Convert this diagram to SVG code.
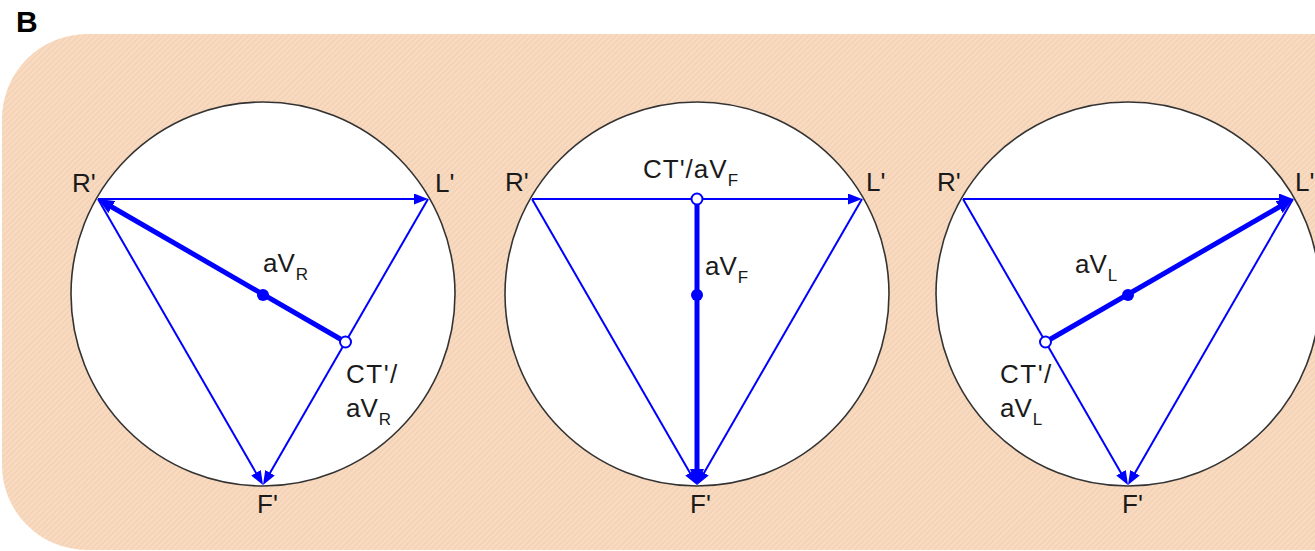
<svg xmlns="http://www.w3.org/2000/svg" width="1315" height="551" viewBox="0 0 1315 551">
<defs>
<pattern id="hatch" width="4" height="4" patternUnits="userSpaceOnUse" patternTransform="rotate(45)">
<rect width="4" height="4" fill="#F9DBC2"/>
<rect width="1.6" height="4" fill="#F3D1B4"/>
</pattern>
<marker id="ah" markerUnits="userSpaceOnUse" markerWidth="14" markerHeight="11" refX="5" refY="5.5" orient="auto">
<path d="M0,0 L14,5.5 L0,11 z" fill="#0000FF"/>
</marker>
<marker id="ahT" markerUnits="userSpaceOnUse" markerWidth="16" markerHeight="14" refX="6" refY="7" orient="auto">
<path d="M0,0 L16,7 L0,14 z" fill="#0000FF"/>
</marker>
</defs>
<style>
.ring{fill:#fff;stroke:#333;stroke-width:1.6}
.thin{stroke:#0000FF;stroke-width:2;fill:none;marker-end:url(#ah)}
.thick{stroke:#0000FF;stroke-width:5;fill:none;marker-end:url(#ahT)}
.dot{fill:#0000FF}
.ct{fill:#fff;stroke:#0000FF;stroke-width:2}
text{font-family:"Liberation Sans",Arial,sans-serif;font-size:26px;fill:#1a1a1a}
.sub{font-size:17px}
</style>
<rect x="2" y="34" width="1420" height="516" rx="85" ry="85" fill="url(#hatch)"/>
<text x="16" y="32" style="font-weight:bold;font-size:30px;fill:#000">B</text>

<g id="panel1">
<circle class="ring" cx="263" cy="294" r="192"/>
</g>
<g id="panel2">
<circle class="ring" cx="697" cy="294" r="192"/>
</g>
<g id="panel3">
<circle class="ring" cx="1128" cy="294" r="192"/>
</g>

<g id="connectors">
<!-- panel 1 -->
<line class="thin" x1="98" y1="199" x2="419" y2="199"/>
<line class="thin" x1="98" y1="199" x2="258.5" y2="477.2"/>
<line class="thin" x1="428" y1="199" x2="267.5" y2="477.2"/>
<line class="thick" x1="345.5" y1="342" x2="106.7" y2="204"/>
<!-- panel 2 -->
<line class="thin" x1="532" y1="199" x2="853" y2="199"/>
<line class="thin" x1="532" y1="199" x2="692.5" y2="477.2"/>
<line class="thin" x1="862" y1="199" x2="701.5" y2="477.2"/>
<line class="thick" x1="697" y1="199" x2="697" y2="475"/>
<!-- panel 3 -->
<line class="thin" x1="963" y1="199" x2="1284" y2="199"/>
<line class="thin" x1="963" y1="199" x2="1123.5" y2="477.2"/>
<line class="thin" x1="1293" y1="199" x2="1132.5" y2="477.2"/>
<line class="thick" x1="1045.5" y1="342" x2="1284.3" y2="204"/>
</g>

<g id="points1">
<circle class="dot" cx="263" cy="295" r="6"/>
<circle class="ct" cx="345.5" cy="342" r="5.5"/>
<text x="72" y="192">R'</text>
<text x="435" y="192">L'</text>
<text x="263" y="272">aV<tspan class="sub" dx="1" dy="8">R</tspan></text>
<text x="346" y="383" letter-spacing="1.5">CT'/</text>
<text x="346" y="417">aV<tspan class="sub" dx="1" dy="8">R</tspan></text>
<text x="257" y="513">F'</text>
</g>
<g id="points2">
<circle class="dot" cx="697" cy="295" r="6"/>
<circle class="ct" cx="697" cy="199" r="5.5"/>
<text x="505" y="191">R'</text>
<text x="866" y="191">L'</text>
<text x="643" y="178" letter-spacing="1">CT'/aV<tspan class="sub" dx="0" dy="8">F</tspan></text>
<text x="705" y="275">aV<tspan class="sub" dx="1" dy="8">F</tspan></text>
<text x="690" y="513">F'</text>
</g>
<g id="points3">
<circle class="dot" cx="1128" cy="295" r="6"/>
<circle class="ct" cx="1045.5" cy="342" r="5.5"/>
<text x="937" y="191">R'</text>
<text x="1295" y="191">L'</text>
<text x="1075" y="273">aV<tspan class="sub" dx="1" dy="8">L</tspan></text>
<text x="1000" y="383" letter-spacing="1.5">CT'/</text>
<text x="1000" y="417">aV<tspan class="sub" dx="1" dy="8">L</tspan></text>
<text x="1122" y="513">F'</text>
</g>
</svg>
